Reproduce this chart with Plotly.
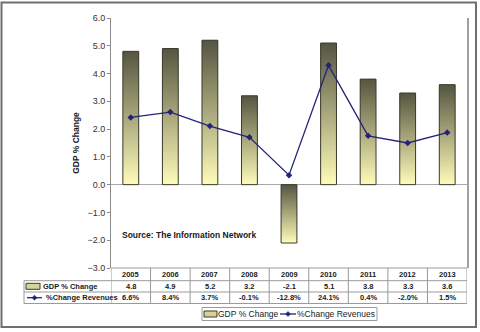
import plotly.graph_objects as go

years = ['2005', '2006', '2007', '2008', '2009', '2010', '2011', '2012', '2013']
gdp = [4.8, 4.9, 5.2, 3.2, -2.1, 5.1, 3.8, 3.3, 3.6]
rev = [6.6, 8.4, 3.7, -0.1, -12.8, 24.1, 0.4, -2.0, 1.5]
rev_labels = ['6.6%', '8.4%', '3.7%', '-0.1%', '-12.8%', '24.1%', '0.4%', '-2.0%', '1.5%']
series_names = ['GDP % Change', '%Change Revenues']
yticks = [-3, -2, -1, 0, 1, 2, 3, 4, 5, 6]

FONT = 'Liberation Sans, Arial, sans-serif'
LIGHT = (255, 252, 185)
DARK = (85, 85, 65)
BAR_W = 0.4
N = 50
LINE_C = '#23237a'
KEY_FILL = '#d6d39a'
KEY_EDGE = '#3a3a2c'

# plot-area pixel geometry (figure 480x332)
PL, PR, PT, PB = 111, 467, 18, 268


def px(x):
    return (x - PL) / (PR - PL)


def py(y):
    return (PB - y) / (PB - PT)


def mix(t):
    return 'rgb(%d,%d,%d)' % tuple(round(LIGHT[j] + (DARK[j] - LIGHT[j]) * t) for j in range(3))


# gradient bars: each bar split into N stacked slices (slightly overlapping to avoid seams)
sx, sy, sb, sc = [], [], [], []
for i, v in enumerate(gdp):
    for k in range(N):
        sx.append(years[i])
        sy.append(v / N * (1.0 if k == N - 1 else 1.8))
        sb.append(v * k / N)
        t = (k + 0.5) / N
        sc.append(mix(t if v >= 0 else 1 - t))

fig = go.Figure()
fig.add_trace(go.Bar(x=sx, y=sy, base=sb, width=BAR_W, marker=dict(color=sc, line=dict(width=0)),
                     showlegend=False, hoverinfo='skip'))
fig.add_trace(go.Bar(x=years, y=gdp, width=BAR_W, name=series_names[0], showlegend=False,
                     marker=dict(color='rgba(0,0,0,0)', line=dict(color=KEY_EDGE, width=1))))
fig.add_trace(go.Scatter(x=years, y=rev, yaxis='y2', name=series_names[1], mode='lines+markers',
                         showlegend=False,
                         line=dict(color=LINE_C, width=1.3),
                         marker=dict(symbol='diamond', size=5, color=LINE_C)))

GRID = '#9a9a9a'
TXT = '#1a1a1a'
shapes = []
annotations = []

# ---- data table beneath the plot ----
y_rows = [py(268), py(280.7), py(292), py(303.5)]
x_left = px(24)
shapes.append(dict(type='line', xref='paper', yref='paper', x0=0, x1=1, y0=y_rows[0], y1=y_rows[0],
                   line=dict(color=GRID, width=1)))
for yr in y_rows[1:]:
    shapes.append(dict(type='line', xref='paper', yref='paper', x0=x_left, x1=1, y0=yr, y1=yr,
                       line=dict(color=GRID, width=1)))
for b in range(len(years) + 1):
    shapes.append(dict(type='line', xref='x', yref='paper', x0=b - 0.5, x1=b - 0.5,
                       y0=y_rows[0], y1=y_rows[-1], line=dict(color=GRID, width=1)))
shapes.append(dict(type='line', xref='paper', yref='paper', x0=x_left, x1=x_left,
                   y0=y_rows[1], y1=y_rows[-1], line=dict(color=GRID, width=1)))


def rect_key(x0, x1, yc, h=6):
    shapes.append(dict(type='rect', xref='paper', yref='paper', x0=px(x0), x1=px(x1),
                       y0=py(yc + h / 2), y1=py(yc - h / 2), fillcolor=KEY_FILL,
                       line=dict(color=KEY_EDGE, width=1)))


def line_key(x0, x1, yc):
    shapes.append(dict(type='line', xref='paper', yref='paper', x0=px(x0), x1=px(x1),
                       y0=py(yc), y1=py(yc), line=dict(color=LINE_C, width=1.3)))
    c = (x0 + x1) / 2
    shapes.append(dict(type='path', xref='paper', yref='paper',
                       path='M %f %f L %f %f L %f %f L %f %f Z' % (
                           px(c - 2.5), py(yc), px(c), py(yc - 2.5), px(c + 2.5), py(yc), px(c), py(yc + 2.5)),
                       fillcolor=LINE_C, line=dict(color=LINE_C, width=0.5)))


row_c = [274.5, 286.3, 297.7]
rect_key(26, 40, row_c[1])
line_key(27, 42, row_c[2])

tf = dict(family=FONT, size=7.5, color=TXT)


def note(x, xref, y, text, font, xanchor='center'):
    annotations.append(dict(x=x, xref=xref, y=y, yref='paper', text=text, showarrow=False,
                            font=font, xanchor=xanchor, yanchor='middle'))


for i, yv in enumerate(years):
    note(i, 'x', py(row_c[0]), '<b>%s</b>' % yv, tf)
    note(i, 'x', py(row_c[1]), '<b>%.1f</b>' % gdp[i], tf)
    note(i, 'x', py(row_c[2]), '<b>%s</b>' % rev_labels[i], tf)
note(px(41), 'paper', py(row_c[1]), '<b>%s</b>' % series_names[0], tf, 'left')
note(px(44), 'paper', py(row_c[2]), '<b>%s</b>' % series_names[1], tf, 'left')
note(px(120), 'paper', py(235), '<b>Source: The Information Network</b>',
     dict(family=FONT, size=8.5, color=TXT), 'left')

# ---- legend box below the table ----
LY = 314
shapes.append(dict(type='rect', xref='paper', yref='paper', x0=px(202), x1=px(377),
                   y0=py(320.5), y1=py(307.5), fillcolor='white', line=dict(color=GRID, width=1)))
rect_key(204, 217, LY)
line_key(280, 296, LY)
lf = dict(family=FONT, size=8.5, color=TXT)
note(px(216), 'paper', py(LY), series_names[0], lf, 'left')
note(px(295), 'paper', py(LY), series_names[1], lf, 'left')

# outer frame
shapes.append(dict(type='rect', xref='paper', yref='paper', x0=px(1.5), x1=px(476),
                   y0=py(327), y1=py(2.5), line=dict(color='#6e6e6e', width=2)))

fig.update_layout(
    width=480, height=332,
    margin=dict(l=PL, r=480 - PR, t=PT, b=332 - PB, autoexpand=False),
    paper_bgcolor='white', plot_bgcolor='white',
    barmode='overlay', showlegend=False,
    font=dict(family=FONT, color=TXT),
    xaxis=dict(type='category', categoryorder='array', categoryarray=years, range=[-0.5, 8.5],
               showticklabels=False, showgrid=False, zeroline=False, showline=False, ticks=''),
    yaxis=dict(range=[-3, 6], tickvals=yticks, tickformat='.1f', showgrid=False,
               zeroline=True, zerolinecolor='#a8a8a8', zerolinewidth=1,
               showline=True, linecolor='#8a8a8a', linewidth=1,
               ticks='outside', ticklen=3, tickcolor='#8a8a8a',
               tickfont=dict(family=FONT, size=9, color='#333'),
               title=dict(text='<b>GDP % Change</b>', font=dict(family=FONT, size=8.5, color=TXT), standoff=6)),
    yaxis2=dict(range=[-44, 40], overlaying='y', side='right', showgrid=False, zeroline=False,
                showline=True, linecolor='#a0a0a0', linewidth=2, showticklabels=False, ticks=''),
    shapes=shapes, annotations=annotations,
)

fig.write_html('out.html')
